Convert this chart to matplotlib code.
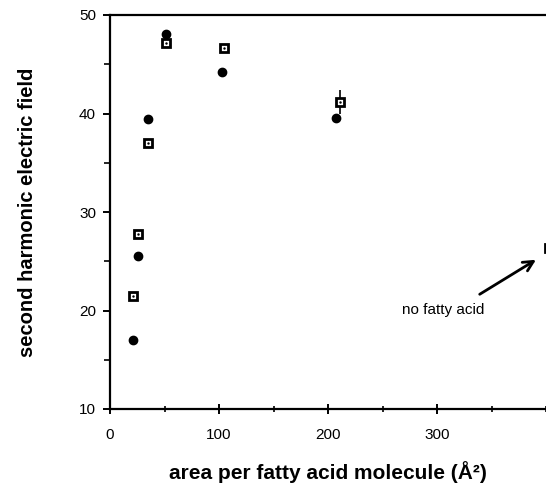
import matplotlib
matplotlib.use("Agg")
import matplotlib.pyplot as plt
from matplotlib.ticker import MultipleLocator

plt.rcParams['font.family'] = ['Liberation Sans', 'DejaVu Sans']

# filled markers
area_filled = [21, 26, 35, 51, 103, 207]
field_filled = [17.0, 25.5, 39.4, 48.1, 44.2, 39.5]
# open squares
area_open = [21, 26, 35, 51, 105, 211]
field_open = [21.5, 27.8, 37.0, 47.2, 46.6, 41.2]
err_open = [0, 0, 0, 0, 0, 1.2]
# no fatty acid point
area_none = [403]
field_none = [26.3]

fig = plt.figure(figsize=(5.46, 4.88), dpi=100)
ax = fig.add_axes([110/546, 1-409/488, 436/546, (409-15)/488])
ax.set_xlim(0, 400)
ax.set_ylim(10, 50)

ax.plot(area_filled, field_filled, 'o', color='black', ms=6, zorder=3)
ax.errorbar(area_open, field_open, yerr=err_open, fmt='none', ecolor='black', elinewidth=1.2, zorder=2)
ax.plot(area_open, field_open, 's', mfc='white', mec='black', mew=2.0, ms=6, zorder=3)
ax.plot(area_open, field_open, '.', color='black', ms=1.5, zorder=4)
ax.plot(area_none, field_none, 's', mfc='white', mec='black', mew=2.0, ms=6, zorder=3, clip_on=True)

ax.annotate('', xy=(393, 25.3), xytext=(337, 21.5),
            arrowprops=dict(arrowstyle='->', color='black', lw=2, mutation_scale=18))
ax.text(306, 20.1, 'no fatty acid', fontsize=11, ha='center', va='center')

ax.spines['right'].set_visible(False)
for s in ['left', 'top', 'bottom']:
    ax.spines[s].set_linewidth(1.6)

ax.xaxis.set_major_locator(MultipleLocator(100))
ax.xaxis.set_minor_locator(MultipleLocator(50))
ax.yaxis.set_major_locator(MultipleLocator(10))
ax.yaxis.set_minor_locator(MultipleLocator(5))
ax.set_xticks([0, 100, 200, 300])
ax.tick_params(axis='x', which='major', direction='inout', length=7, width=1.4, labelsize=11, pad=10)
ax.tick_params(axis='x', which='minor', direction='inout', length=5, width=1.2)
ax.tick_params(axis='y', which='major', direction='out', length=5, width=1.4, labelsize=11, pad=5)
ax.tick_params(axis='y', which='minor', direction='out', length=4, width=1.2)

ax.set_xlabel('area per fatty acid molecule (Å²)', fontsize=15, fontweight='bold', labelpad=14)
ax.set_ylabel('second harmonic electric field', fontsize=14.5, fontweight='bold', labelpad=30)

fig.savefig('out.png', dpi=100)
